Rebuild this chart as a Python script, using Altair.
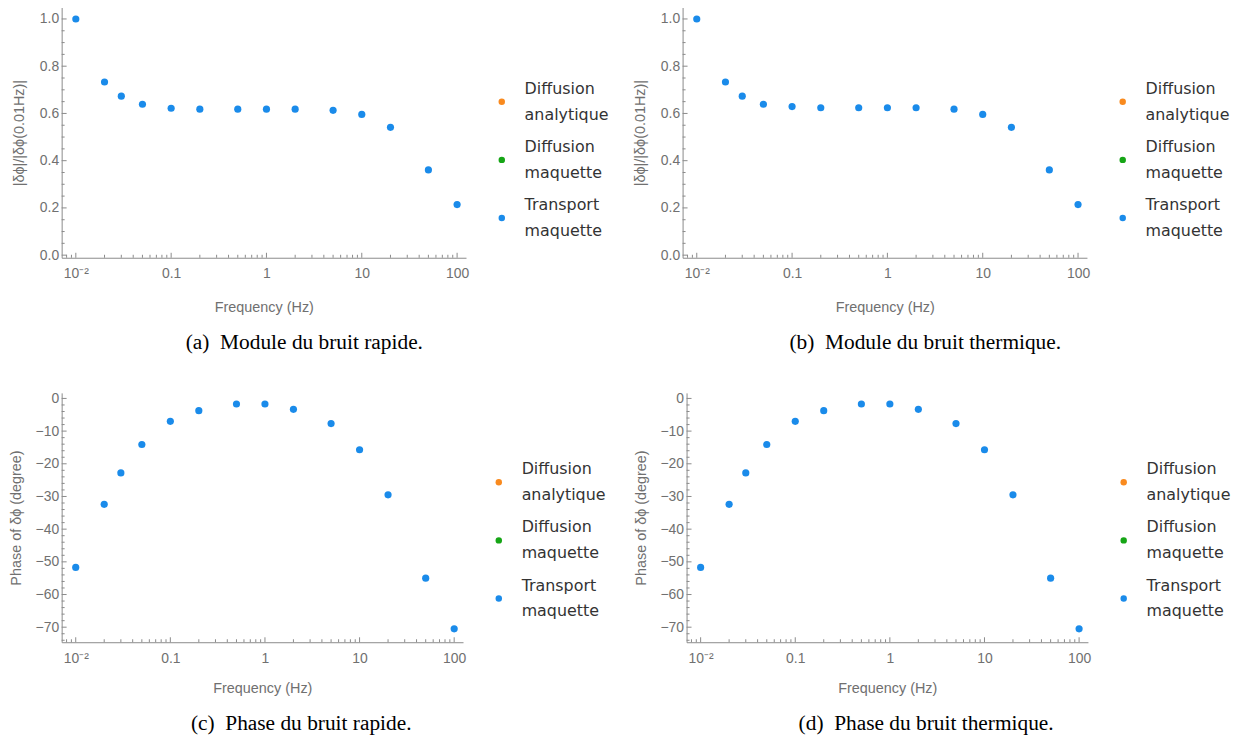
import altair as alt
import pandas as pd

# ---- data ----
freq = [0.01, 0.02, 0.03, 0.05, 0.1, 0.2, 0.5, 1, 2, 5, 10, 20, 50, 100]
mod_rapide = [1.0, 0.733, 0.673, 0.639, 0.622, 0.618, 0.618, 0.618, 0.618, 0.613, 0.596, 0.541, 0.361, 0.214]
mod_thermique = [1.0, 0.733, 0.673, 0.639, 0.629, 0.624, 0.624, 0.624, 0.624, 0.618, 0.596, 0.541, 0.361, 0.214]
phase_rapide = [-51.7, -32.4, -22.8, -14.1, -7.0, -3.75, -1.7, -1.7, -3.35, -7.7, -15.7, -29.5, -55.0, -70.5]
phase_thermique = [-51.7, -32.4, -22.8, -14.1, -7.0, -3.75, -1.7, -1.7, -3.35, -7.7, -15.7, -29.5, -55.0, -70.5]

series_names = ["Diffusion analytique", "Diffusion maquette", "Transport maquette"]
series_colors = ["#f98a1e", "#16a516", "#1a8bea"]
plotted_series = "Transport maquette"

captions = ["(a)\u00a0\u00a0Module du bruit rapide.", "(b)\u00a0\u00a0Module du bruit thermique.",
            "(c)\u00a0\u00a0Phase du bruit rapide.", "(d)\u00a0\u00a0Phase du bruit thermique."]
mod_title = "|δϕ|/|δϕ(0.01Hz)|"
phase_title = "Phase of δϕ (degree)"
x_title = "Frequency (Hz)"

x_major = [0.01, 0.1, 1, 10, 100]
x_minor = [0.008, 0.009,
           0.02, 0.03, 0.04, 0.05, 0.06, 0.07, 0.08, 0.09,
           0.2, 0.3, 0.4, 0.5, 0.6, 0.7, 0.8, 0.9,
           2, 3, 4, 5, 6, 7, 8, 9,
           20, 30, 40, 50, 60, 70, 80, 90]
mod_major = [0.0, 0.2, 0.4, 0.6, 0.8, 1.0]
mod_minor = [0.05, 0.1, 0.15, 0.25, 0.3, 0.35, 0.45, 0.5, 0.55, 0.65, 0.7, 0.75, 0.85, 0.9, 0.95]
phase_major = [0, -10, -20, -30, -40, -50, -60, -70]
phase_minor = [-2, -4, -6, -8, -12, -14, -16, -18, -22, -24, -26, -28, -32, -34, -36, -38,
               -42, -44, -46, -48, -52, -54, -56, -58, -62, -64, -66, -68, -72, -74]

x_domain = [0.0071, 124]
mod_domain = [-0.011, 1.049]
phase_domain = [-74.6, 1.7]

GRAY = "#8a8a8a"


def panel(values, ytitle, ydom, ymaj, ymin, yfmt, caption, w, h, ytpad, xtpad, legx, legy):
    df = pd.DataFrame({"f": freq, "v": values, "s": [plotted_series] * len(freq)})
    xs = alt.Scale(type="log", domain=x_domain, nice=False)
    ys = alt.Scale(domain=ydom, nice=False, zero=False)
    xaxis = alt.Axis(title=x_title, values=x_major, ticks=False, grid=False,
                     labelExpr="datum.value < 0.05 ? '10⁻²' : format(datum.value, '')",
                     labelPadding=9, titlePadding=xtpad)
    yaxis = alt.Axis(title=ytitle, values=ymaj, format=yfmt, ticks=False, grid=False,
                     labelPadding=3, titlePadding=ytpad)
    X = lambda: alt.X("f:Q", scale=xs, axis=xaxis)
    Y = lambda: alt.Y("v:Q", scale=ys, axis=yaxis)
    pts = alt.Chart(df).mark_circle(size=52, opacity=1).encode(
        x=X(), y=Y(),
        color=alt.Color("s:N", scale=alt.Scale(domain=series_names, range=series_colors),
                        legend=alt.Legend(
                            title=None, orient="none", legendX=legx, legendY=legy,
                            labelExpr="split(datum.label, ' ')", labelBaseline="line-bottom",
                            labelFont="DejaVu Sans", labelFontSize=16, labelColor="#333333",
                            symbolType="circle", symbolSize=42, symbolStrokeWidth=0,
                            labelOffset=15, rowPadding=16.5, padding=0, labelLimit=300)),
    )
    ymaj_t = alt.Chart(pd.DataFrame({"v": ymaj})).mark_rule(color=GRAY).encode(
        y=Y(), x=alt.value(0), x2=alt.value(5))
    ymin_t = alt.Chart(pd.DataFrame({"v": ymin})).mark_rule(color=GRAY).encode(
        y=Y(), x=alt.value(0), x2=alt.value(3))
    xmaj_t = alt.Chart(pd.DataFrame({"f": x_major})).mark_rule(color=GRAY).encode(
        x=X(), y=alt.value(h), y2=alt.value(h - 5))
    xmin_t = alt.Chart(pd.DataFrame({"f": x_minor})).mark_rule(color=GRAY).encode(
        x=X(), y=alt.value(h), y2=alt.value(h - 3))
    return alt.layer(ymaj_t, ymin_t, xmaj_t, xmin_t, pts).properties(
        width=w, height=h,
        title=alt.TitleParams(text=caption, orient="bottom", anchor="middle", frame="bounds",
                              font="Liberation Serif", fontSize=21.5, fontWeight="normal",
                              color="black", offset=18, dx=-6))


a = panel(mod_rapide, mod_title, mod_domain, mod_major, mod_minor, ".1f", captions[0], 407, 252, 13, 20, 435, 87)
b = panel(mod_thermique, mod_title, mod_domain, mod_major, mod_minor, ".1f", captions[1], 407, 252, 13, 20, 435, 87)
c = panel(phase_rapide, phase_title, phase_domain, phase_major, phase_minor, "d", captions[2], 404, 251, 12, 17, 432, 82)
d = panel(phase_thermique, phase_title, phase_domain, phase_major, phase_minor, "d", captions[3], 404, 251, 12, 17, 432, 82)

row1 = alt.hconcat(a, b, spacing=23).resolve_scale(color="independent")
row2 = alt.hconcat(c, d, spacing=27).resolve_scale(color="independent")
chart = alt.vconcat(row1, row2, spacing=38).resolve_scale(color="independent").properties(
    padding={"left": 0, "top": -3, "right": 0, "bottom": 0})

chart = chart.configure(style={"guide-label": {"lineHeight": 26}}).configure_view(
    stroke=None
).configure_axis(
    domainColor=GRAY, domainWidth=1,
    labelColor="#707070", labelFont="Liberation Sans", labelFontSize=14, labelLineHeight=14,
    titleColor="#707070", titleFont="Liberation Sans", titleFontSize=14.5, titleFontWeight="normal"
)

chart.save("out.html", embed_options={"renderer": "svg", "actions": False})
